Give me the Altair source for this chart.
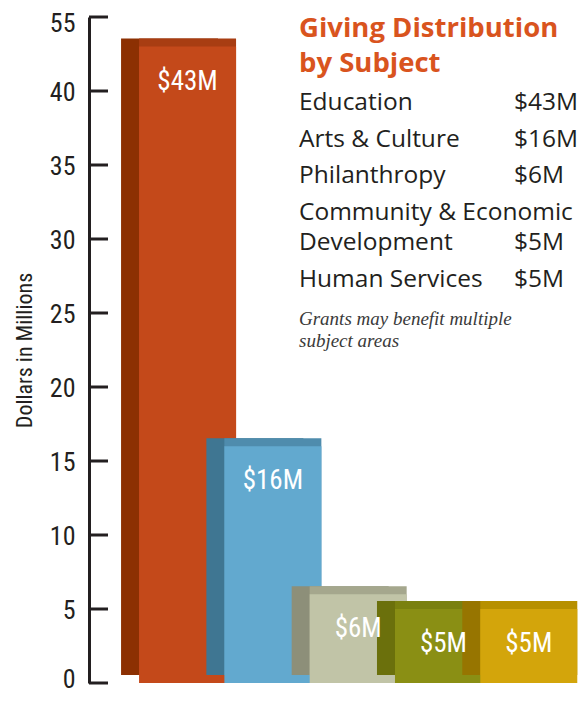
import altair as alt
import pandas as pd

# ---- data ----
categories = ["Education", "Arts & Culture", "Philanthropy",
              "Community & Economic Development", "Human Services"]
values = [43, 16, 6, 5, 5]
value_labels = ["$43M", "$16M", "$6M", "$5M", "$5M"]
legend_names = ["Education", "Arts & Culture", "Philanthropy",
                "Community & Economic\nDevelopment", "Human Services"]
tick_values = [0, 5, 10, 15, 20, 25, 30, 35, 40, 45]
tick_labels = ["0", "5", "10", "15", "20", "25", "30", "35", "40", "55"]
title_text = "Giving Distribution\nby Subject"
note_text = "Grants may benefit multiple\nsubject areas"
y_title = "Dollars in Millions"

# ---- styles ----
front_colors = ["#C4491A", "#62A9CF", "#C1C4A7", "#8A8F14", "#D3A50B"]
top_colors = ["#A83D12", "#4F8CAD", "#A5A78D", "#7A800F", "#B79000"]
side_colors = ["#8C3002", "#3F7692", "#8D8F79", "#6B700C", "#977500"]
dark = "#231F20"
orange = "#D9541E"
narrow = "Roboto Condensed"
sans = "Open Sans"
serif = "Liberation Serif"

df = pd.DataFrame({"cat": categories, "value": values, "label": value_labels})
ticks_df = pd.DataFrame({"t": tick_values})

label_expr = " : ".join(
    f"datum.value == {v} ? '{l}'" for v, l in zip(tick_values, tick_labels)
) + " : datum.label"

y_scale = alt.Scale(domain=[0, 45], nice=False, zero=True)
y_axis = alt.Axis(
    title=y_title, values=tick_values, labelExpr=label_expr, ticks=False,
    domain=True, domainColor=dark, domainWidth=3, grid=False,
    labelFont=narrow, labelFontSize=26, labelColor=dark, labelPadding=14,
    labelOffset={"condition": [
        {"test": f"datum.value == {tick_values[-1]}", "value": 6},
        {"test": f"datum.value == {tick_values[0]}", "value": -4},
    ], "value": 1},
    titleFont=narrow, titleFontSize=22, titleFontWeight="normal",
    titleColor=dark, titlePadding=13,
)
x_enc = alt.X("cat:N", sort=categories,
              scale=alt.Scale(domain=categories, paddingInner=0,
                              paddingOuter=0.331, align=0.99),
              axis=None)
y_enc = alt.Y("value:Q", scale=y_scale, axis=y_axis)

BW = 97
layers = []

# tick marks pointing inward
layers.append(
    alt.Chart(ticks_df).mark_rule(color=dark, strokeWidth=3).encode(
        y=alt.Y("t:Q", scale=y_scale, axis=y_axis),
        x=alt.value(0), x2=alt.value(19),
    )
)

# pseudo-3D bars: side face, top face, front face, drawn bar by bar
for i, c in enumerate(categories):
    base = alt.Chart(df).transform_filter(alt.datum.cat == c)
    layers.append(base.mark_bar(color=side_colors[i], width=BW, xOffset=-18,
                                yOffset=-8).encode(x=x_enc, y=y_enc))
    layers.append(base.mark_bar(color=top_colors[i], width=BW,
                                yOffset=-8).encode(x=x_enc, y=y_enc))
    layers.append(base.mark_bar(color=front_colors[i], width=BW,
                                y2Offset=6).encode(x=x_enc, y=y_enc))

# value labels on the bars
layers.append(
    alt.Chart(df).mark_text(color="white", font=narrow, fontSize=27,
                            baseline="alphabetic", dy=43).encode(
        x=x_enc, y=y_enc, text="label:N")
)

# title block
layers.append(
    alt.Chart(pd.DataFrame({"t": [title_text]})).mark_text(
        align="left", baseline="alphabetic", font=sans, fontSize=27.5,
        fontWeight="bold", color=orange, lineBreak="\n", lineHeight=35,
    ).encode(x=alt.value(210), y=alt.value(20), text="t:N")
)

row_y = [93, 130, 166, 203, 270]
val_y = [93, 130, 166, 233, 270]
for i in range(len(categories)):
    layers.append(
        alt.Chart(pd.DataFrame({"t": [legend_names[i]]})).mark_text(
            align="left", baseline="alphabetic", font=sans, fontSize=24.5,
            color=dark, lineBreak="\n", lineHeight=30,
        ).encode(x=alt.value(210), y=alt.value(row_y[i]), text="t:N")
    )
    layers.append(
        alt.Chart(pd.DataFrame({"t": [value_labels[i]]})).mark_text(
            align="left", baseline="alphabetic", font=sans, fontSize=24.5,
            color=dark,
        ).encode(x=alt.value(425), y=alt.value(val_y[i]), text="t:N")
    )

layers.append(
    alt.Chart(pd.DataFrame({"t": [note_text]})).mark_text(
        align="left", baseline="alphabetic", font=serif, fontSize=19,
        fontStyle="italic", color="#3A3A3A", lineBreak="\n", lineHeight=22,
    ).encode(x=alt.value(210), y=alt.value(308), text="t:N")
)

chart = alt.layer(*layers).properties(
    width=483, height=666,
    padding={"left": 81, "top": 9, "right": 7, "bottom": 11},
    autosize=alt.AutoSizeParams(type="none"),
).configure_view(stroke=None)

chart.save("out.html", embed_options={"renderer": "svg", "actions": False})
